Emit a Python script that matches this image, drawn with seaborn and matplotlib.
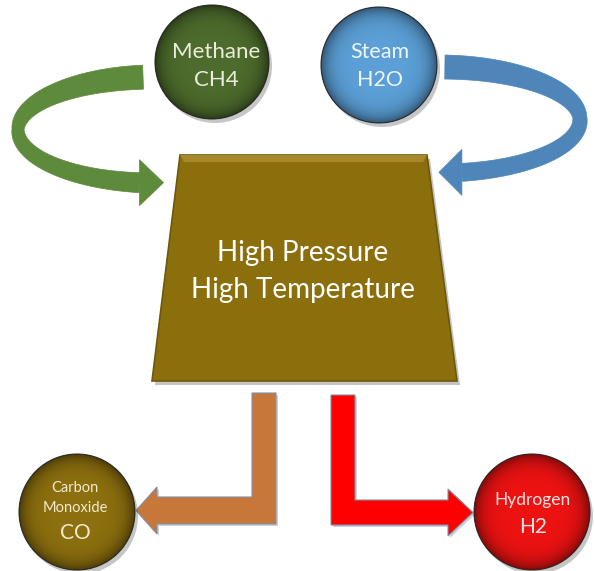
import numpy as np
import matplotlib.pyplot as plt
import seaborn as sns
from matplotlib.patches import Circle, Polygon

# node texts and colours
node_labels = ["Methane\nCH4", "Steam\nH2O", "Carbon\nMonoxide\nCO", "Hydrogen\nH2"]
node_colors = ["#4d6b2c", "#5b9fd6", "#8c6f0e", "#ec1212"]
text_colors = ["#e8eed8", "#eef5fb", "#f3ead0", "#fbe3e3"]
reactor_label = ["High Pressure", "High Temperature"]
reactor_color = "#8c6f0d"
arrow_colors = ["#5d8a3b", "#4f86b9", "#c8773b", "#ff0000"]

# layout (pixels, y down)
node_xy = [(212, 62), (379, 65), (77, 512), (532, 512)]
node_r = [57, 58, 58, 58]
trap = [(180, 155), (427, 155), (457, 381), (152, 381)]

sns.set_theme(style="white")
plt.rcParams['font.family'] = ['Lato', 'DejaVu Sans']

fig = plt.figure(figsize=(5.95, 5.71), dpi=100)
ax = fig.add_axes([0, 0, 1, 1])
ax.set_axis_off()


def ribbon(ax, cx, cy, a, b, t0, t1, w0, wm, w1, color, head_len, head_h):
    t = np.radians(np.linspace(t0, t1, 200))
    # band half width varies along the sweep (twisted ribbon look)
    s = np.linspace(0, 1, t.size)
    w = np.where(s < 0.5, w0 + (wm - w0) * (s / 0.5) ** 1.5,
                 wm + (w1 - wm) * ((s - 0.5) / 0.5) ** 0.8)
    x = cx + a * np.cos(t)
    y = cy - b * np.sin(t)
    nx = np.cos(t) / a
    ny = -np.sin(t) / b
    n = np.hypot(nx, ny)
    nx, ny = nx / n, ny / n
    outer = np.c_[x + w * nx, y + w * ny]
    inner = np.c_[x - w * nx, y - w * ny][::-1]
    ax.add_patch(Polygon(np.r_[outer, inner], closed=True, fc=color, ec=color,
                         lw=0.5, zorder=1))
    # arrow head pointing horizontally
    ex, ey = x[-1], y[-1]
    d = 1 if ex < cx else -1
    head = [(ex, ey - head_h), (ex + d * head_len, ey), (ex, ey + head_h)]
    ax.add_patch(Polygon(head, closed=True, fc=color, ec=color, lw=0.5, zorder=1))


ribbon(ax, 155, 130, 137, 53, 95, 263.5, 12, 6, 10, arrow_colors[0], 24, 23)
ribbon(ax, 440, 120, 140, 53, 88, -81, 12, 7, 9, arrow_colors[1], 23, 23)

# L-shaped output arrows
orange_L = [(252, 393), (276, 393), (276, 524), (157, 524), (157, 534),
            (136, 510.5), (157, 487), (157, 497), (252, 497)]
red_L = [(331, 395), (355, 395), (355, 500), (448, 500), (448, 489),
         (473, 512.5), (448, 536), (448, 525), (331, 525)]
for pts, c in [(orange_L, arrow_colors[2]), (red_L, arrow_colors[3])]:
    sh = [(px + 2, py + 2) for px, py in pts]
    ax.add_patch(Polygon(sh, closed=True, fc="#9aa6b8", ec="none", alpha=0.5, zorder=1))
    ax.add_patch(Polygon(pts, closed=True, fc=c, ec="#7f8fa8", lw=0.8, zorder=2))

# reactor trapezoid with a simple bevel
sh = [(px + 3, py + 4) for px, py in trap]
ax.add_patch(Polygon(sh, closed=True, fc="#555555", ec="none", alpha=0.35, zorder=3))
ax.add_patch(Polygon(trap, closed=True, fc=reactor_color, ec="#6e5808", lw=1.2, zorder=4))
bevel = [(180, 155), (427, 155), (423, 162), (184, 162)]
ax.add_patch(Polygon(bevel, closed=True, fc="#a8892a", ec="none", zorder=5))
ax.text(303, 253, reactor_label[0], ha="center", va="center", fontsize=20,
        color="white", zorder=6)
ax.text(303, 290, reactor_label[1], ha="center", va="center", fontsize=20,
        color="white", zorder=6)

# shaded circles
g = np.linspace(-1, 1, 200)
gx, gy = np.meshgrid(g, g)
rr = np.clip(np.hypot(gx, gy), 0, 1)
shade = np.zeros((200, 200, 4))
shade[..., 3] = 0.45 * rr ** 6
for (cx, cy), r, c in zip(node_xy, node_r, node_colors):
    ax.add_patch(Circle((cx + 3, cy + 4), r, fc="#444444", ec="none", alpha=0.3, zorder=7))
    circ = Circle((cx, cy), r, fc=c, ec="#3a3a3a", lw=0.8, zorder=8)
    ax.add_patch(circ)
    im = ax.imshow(shade, extent=[cx - r, cx + r, cy + r, cy - r], zorder=9,
                   interpolation="bilinear")
    im.set_clip_path(circ)

# node texts
kw = dict(ha="center", va="center", zorder=10)
ax.text(216, 52, "Methane", fontsize=16, color=text_colors[0], **kw)
ax.text(216, 80, "CH4", fontsize=16, color=text_colors[0], **kw)
ax.text(380, 52, "Steam", fontsize=15.5, color=text_colors[1], **kw)
ax.text(380, 80, "H2O", fontsize=15.5, color=text_colors[1], **kw)
ax.text(75, 488, "Carbon", fontsize=10.5, color=text_colors[2], **kw)
ax.text(75, 508, "Monoxide", fontsize=10.5, color=text_colors[2], **kw)
ax.text(75, 533, "CO", fontsize=15, color=text_colors[2], **kw)
ax.text(533, 500, "Hydrogen", fontsize=12.5, color=text_colors[3], **kw)
ax.text(533, 527, "H2", fontsize=15, color=text_colors[3], **kw)

ax.set_xlim(0, 595)
ax.set_ylim(571, 0)
ax.set_aspect("auto")
fig.savefig("out.png", dpi=100)
